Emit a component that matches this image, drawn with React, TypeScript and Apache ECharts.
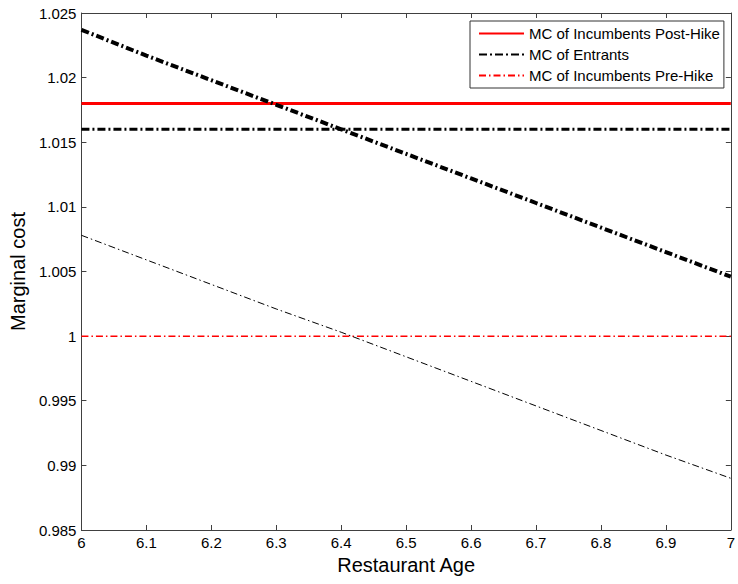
import React, { useEffect, useRef } from "react";
import * as echarts from "echarts";

const ages = [6.0, 6.1, 6.2, 6.3, 6.4, 6.5, 6.6, 6.7, 6.8, 6.9, 7.0];
const entrantsCurve = [1.0237, 1.0217, 1.0198, 1.0179, 1.016, 1.0141, 1.0122, 1.0103, 1.0084, 1.0065, 1.0046];
const preHikeCurve = [1.0078, 1.0059, 1.004, 1.0021, 1.0003, 0.9984, 0.9965, 0.9946, 0.9927, 0.9908, 0.989];
const postHikeLevel = 1.018;
const entrantsLevel = 1.016;
const preHikeLevel = 1.0;
const legendNames = ["MC of Incumbents Post-Hike", "MC of Entrants", "MC of Incumbents Pre-Hike"];

const FONT = "'Liberation Sans', Arial, Helvetica, sans-serif";
const AXIS_COLOR = "#404040";

export default function App() {
  const ref = useRef<HTMLDivElement>(null);
  useEffect(() => {
    if (!ref.current) return;
    const chart = echarts.init(ref.current, null, { renderer: "svg" });
    const xMin = ages[0];
    const xMax = ages[ages.length - 1];
    const flat = (v: number) => [[xMin, v], [xMax, v]];
    const fmt = (d: number) => (v: number) => String(parseFloat(v.toFixed(d)));
    const baseAxisLine = { show: true, lineStyle: { color: AXIS_COLOR, width: 1 } };
    const tick = { show: true, inside: true, length: 5, lineStyle: { color: AXIS_COLOR } };
    chart.setOption({
      animation: false,
      backgroundColor: "#ffffff",
      textStyle: { fontFamily: FONT },
      grid: { left: 79, right: 3, top: 13, bottom: 54, containLabel: false },
      legend: {
        data: legendNames,
        orient: "vertical",
        left: 470,
        top: 21,
        padding: [5, 4, 5, 8],
        itemGap: 6,
        itemWidth: 45,
        itemHeight: 14,
        itemStyle: { opacity: 0, borderWidth: 0 },
        borderColor: "#333333",
        borderWidth: 1,
        backgroundColor: "#ffffff",
        textStyle: { fontFamily: FONT, fontSize: 15, color: "#000" },
      },
      xAxis: [
        {
          type: "value",
          min: 6,
          max: 7,
          interval: 0.1,
          position: "bottom",
          name: "Restaurant Age",
          nameLocation: "middle",
          nameGap: 23,
          nameTextStyle: { fontFamily: FONT, fontSize: 20, color: "#000" },
          axisLine: baseAxisLine,
          axisTick: tick,
          axisLabel: { fontFamily: FONT, fontSize: 15, color: "#000", margin: 5, formatter: fmt(1) },
          splitLine: { show: false },
        },
        {
          type: "value",
          min: 6,
          max: 7,
          interval: 0.1,
          position: "top",
          axisLine: baseAxisLine,
          axisTick: tick,
          axisLabel: { show: false },
          splitLine: { show: false },
        },
      ],
      yAxis: [
        {
          type: "value",
          min: 0.985,
          max: 1.025,
          interval: 0.005,
          position: "left",
          name: "Marginal cost",
          nameLocation: "middle",
          nameGap: 48,
          nameTextStyle: { fontFamily: FONT, fontSize: 20, color: "#000" },
          axisLine: baseAxisLine,
          axisTick: tick,
          axisLabel: { fontFamily: FONT, fontSize: 15, color: "#000", margin: 5, formatter: fmt(3) },
          splitLine: { show: false },
        },
        {
          type: "value",
          min: 0.985,
          max: 1.025,
          interval: 0.005,
          position: "right",
          axisLine: baseAxisLine,
          axisTick: tick,
          axisLabel: { show: false },
          splitLine: { show: false },
        },
      ],
      series: [
        {
          name: "Entrants cost by age",
          type: "line",
          symbol: "none",
          data: ages.map((a, i) => [a, entrantsCurve[i]]),
          lineStyle: { color: "#000", width: 4, type: [8, 3, 2, 3] },
          z: 3,
        },
        {
          name: "Incumbents pre-hike cost by age",
          type: "line",
          symbol: "none",
          data: ages.map((a, i) => [a, preHikeCurve[i]]),
          lineStyle: { color: "#000", width: 1, type: [7, 3, 1.5, 3] },
          z: 3,
        },
        {
          name: legendNames[0],
          type: "line",
          symbol: "none",
          data: flat(postHikeLevel),
          lineStyle: { color: "#ff0000", width: 3, type: "solid" },
          itemStyle: { color: "#ff0000" },
          z: 2,
        },
        {
          name: legendNames[1],
          type: "line",
          symbol: "none",
          data: flat(entrantsLevel),
          lineStyle: { color: "#000", width: 3, type: [8, 3, 2, 3] },
          itemStyle: { color: "#000" },
          z: 2,
        },
        {
          name: legendNames[2],
          type: "line",
          symbol: "none",
          data: flat(preHikeLevel),
          lineStyle: { color: "#ff0000", width: 1.5, type: [7, 3, 1.5, 3] },
          itemStyle: { color: "#ff0000" },
          z: 2,
        },
      ],
    });
    return () => chart.dispose();
  }, []);
  return <div ref={ref} style={{ width: 738, height: 584, position: "absolute", left: 0, top: 0 }} />;
}
